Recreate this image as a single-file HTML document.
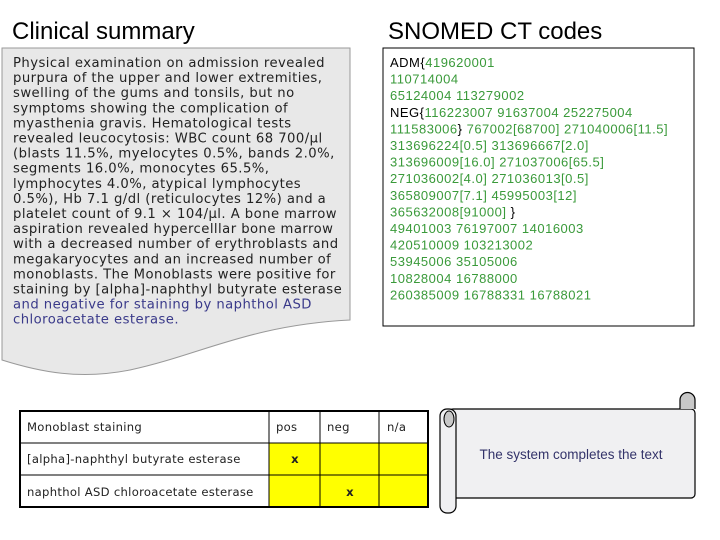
<!DOCTYPE html>
<html><head><meta charset="utf-8"><style>
html,body{margin:0;padding:0;background:#fff;width:720px;height:540px;overflow:hidden}
svg{display:block}
.t{font-family:"DejaVu Sans",Verdana,sans-serif;font-size:13.2px;letter-spacing:0.45px;fill:#222}
.c{font-family:"Liberation Sans",Arial,sans-serif;font-size:13px;letter-spacing:0.5px;fill:#3a9a3a}
.b{fill:#000}
.tb{font-family:"DejaVu Sans",Verdana,sans-serif;font-size:11.6px;letter-spacing:0.3px;fill:#222}
</style></head><body>
<svg width="720" height="540" viewBox="0 0 720 540">
<text x="12" y="39" font-family="Liberation Sans,Arial,sans-serif" font-size="24" fill="#000">Clinical summary</text>
<text x="388" y="39" font-family="Liberation Sans,Arial,sans-serif" font-size="24" fill="#000">SNOMED CT codes</text>

<path d="M2,48 H350 V320 C250,325 200,355 130,370 C80,380 40,372 2,360 Z" fill="#e8e8e8" stroke="#999" stroke-width="1"/>
<g class="t">
<text x="13" y="67">Physical examination on admission revealed</text>
<text x="13" y="82.1">purpura of the upper and lower extremities,</text>
<text x="13" y="97.2">swelling of the gums and tonsils, but no</text>
<text x="13" y="112.3">symptoms showing the complication of</text>
<text x="13" y="127.4">myasthenia gravis. Hematological tests</text>
<text x="13" y="142.5">revealed leucocytosis: WBC count 68 700/μl</text>
<text x="13" y="157.6">(blasts 11.5%, myelocytes 0.5%, bands 2.0%,</text>
<text x="13" y="172.7">segments 16.0%, monocytes 65.5%,</text>
<text x="13" y="187.8">lymphocytes 4.0%, atypical lymphocytes</text>
<text x="13" y="202.9">0.5%), Hb 7.1 g/dl (reticulocytes 12%) and a</text>
<text x="13" y="218">platelet count of 9.1 × 104/μl. A bone marrow</text>
<text x="13" y="233.1">aspiration revealed hypercelllar bone marrow</text>
<text x="13" y="248.2">with a decreased number of erythroblasts and</text>
<text x="13" y="263.3">megakaryocytes and an increased number of</text>
<text x="13" y="278.4">monoblasts. The Monoblasts were positive for</text>
<text x="13" y="293.5">staining by [alpha]-naphthyl butyrate esterase</text>
<text x="13" y="308.6" style="fill:#3a3a8a">and negative for staining by naphthol ASD</text>
<text x="13" y="323.7" style="fill:#3a3a8a">chloroacetate esterase.</text>
</g>

<rect x="383" y="48" width="311" height="278" fill="#fff" stroke="#000" stroke-width="1"/>
<g class="c">
<text x="390" y="67"><tspan class="b">ADM{</tspan>419620001</text>
<text x="390" y="83.6">110714004</text>
<text x="390" y="100.2">65124004 113279002</text>
<text x="390" y="116.8"><tspan class="b">NEG{</tspan>116223007 91637004 252275004</text>
<text x="390" y="133.4">111583006<tspan class="b">}</tspan> 767002[68700] 271040006[11.5]</text>
<text x="390" y="150">313696224[0.5] 313696667[2.0]</text>
<text x="390" y="166.6">313696009[16.0] 271037006[65.5]</text>
<text x="390" y="183.2">271036002[4.0] 271036013[0.5]</text>
<text x="390" y="199.8">365809007[7.1] 45995003[12]</text>
<text x="390" y="216.4">365632008[91000] <tspan class="b">}</tspan></text>
<text x="390" y="233">49401003 76197007 14016003</text>
<text x="390" y="249.6">420510009 103213002</text>
<text x="390" y="266.2">53945006 35105006</text>
<text x="390" y="282.8">10828004 16788000</text>
<text x="390" y="299.4">260385009 16788331 16788021</text>
</g>

<g>
<rect x="269" y="443" width="159" height="64" fill="#ffff00"/>
<rect x="20" y="411" width="408" height="96" fill="none" stroke="#000" stroke-width="2"/>
<line x1="20" y1="443" x2="428" y2="443" stroke="#000"/>
<line x1="20" y1="475" x2="428" y2="475" stroke="#000"/>
<line x1="269" y1="411" x2="269" y2="507" stroke="#000"/>
<line x1="320" y1="411" x2="320" y2="507" stroke="#000"/>
<line x1="379" y1="411" x2="379" y2="507" stroke="#000"/>
</g>
<g class="tb">
<text x="27" y="431">Monoblast staining</text>
<text x="276" y="431">pos</text>
<text x="327" y="431">neg</text>
<text x="387" y="431">n/a</text>
<text x="27" y="463">[alpha]-naphthyl butyrate esterase</text>
<text x="27" y="496">naphthol ASD chloroacetate esterase</text>
<text x="295" y="463" font-weight="bold" text-anchor="middle">x</text>
<text x="350" y="496" font-weight="bold" text-anchor="middle">x</text>
</g>

<g>
<rect x="449" y="409" width="246" height="89" rx="4" fill="#f0f0f2" stroke="#000" stroke-width="1.2"/>
<path d="M680,409 V400 A7.5,7.5 0 0 1 695,400 V409" fill="#c8c8c8" stroke="#000" stroke-width="1.2"/>
<rect x="440" y="409" width="16" height="104" rx="7" fill="#f0f0f2" stroke="#000" stroke-width="1.2"/>
<ellipse cx="449" cy="419" rx="5" ry="8" fill="#c8c8c8" stroke="#000"/>
<text x="571" y="459" text-anchor="middle" font-family="Liberation Sans,Arial,sans-serif" font-size="13.5" fill="#33336a">The system completes the text</text>
</g>
</svg>
</body></html>
